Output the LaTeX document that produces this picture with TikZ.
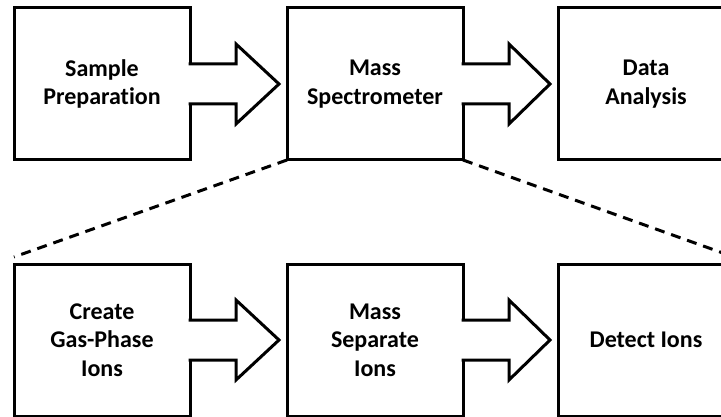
\documentclass[tikz,border=0pt]{standalone}
\usepackage{fontspec}
\setmainfont{Carlito}[Ligatures=NoCommon]
\usetikzlibrary{positioning,calc}
\tikzset{
  stage/.style={draw,line width=3pt,fill=white,align=center,
    font=\bfseries\fontsize{24}{28.5}\selectfont,
    minimum width=176pt,minimum height=152pt,outer sep=0pt,inner sep=0pt},
  fatarrow/.style={draw,fill=white,line width=3pt,line join=miter},
  zoomline/.style={line width=3pt,dash pattern=on 10pt off 7pt},
}

\begin{document}
\begin{tikzpicture}[node distance=97pt]
\useasboundingbox (0,0) rectangle (721pt,-417pt);
\node[stage] (s1) at (102pt,-84pt) {Sample\\Preparation};
\node[stage,right=of s1] (s2) {Mass\\Spectrometer};
\node[stage,right=95pt of s2] (s3) {Data\\Analysis};
\node[stage,below=104pt of s1] (c1) {Create\\Gas-Phase\\Ions};
\node[stage,right=of c1] (c2) {Mass\\Separate\\Ions};
\node[stage,right=95pt of c2] (c3) {Detect Ions};
\foreach \a/\b in {s1/s2,s2/s3,c1/c2,c2/c3}
  \draw[fatarrow] ($(\a.east)+(-1.5pt,20pt)$) -- ++(47.5pt,0) -- ++(0,20pt)
    -- ($(\b.west)+(-8pt,0)$) -- ($(\a.east)+(46pt,-40pt)$) -- ++(0,20pt)
    -- ($(\a.east)+(-1.5pt,-20pt)$);
\draw[zoomline] (s2.south west) -- ($(c1.north west)+(0,7pt)$);
\draw[zoomline] (s2.south east) -- ($(c3.north east)+(0,7pt)$);
\end{tikzpicture}
\end{document}
